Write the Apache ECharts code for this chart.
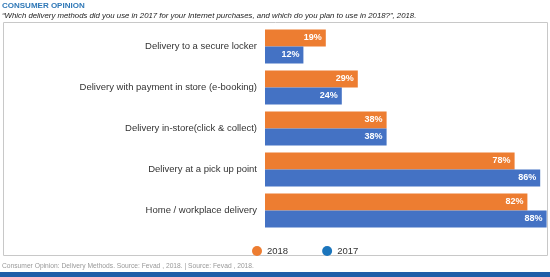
<!DOCTYPE html>
<html><head><meta charset="utf-8">
<script src="https://cdn.jsdelivr.net/npm/echarts@6/dist/echarts.min.js"></script>
<style>html,body{margin:0;padding:0;background:#fff}#c{width:550px;height:277px}</style>
</head><body><div id="c"></div>
<script>
const categories = ["Delivery to a secure locker","Delivery with payment in store (e-booking)","Delivery in-store(click & collect)","Delivery at a pick up point","Home / workplace delivery"];
const values2018 = [19, 29, 38, 78, 82];
const values2017 = [12, 24, 38, 86, 88];
const seriesNames = ["2018", "2017"];
const titleText = "CONSUMER OPINION";
const subtitleText = "\u201cWhich delivery methods did you use in 2017 for your Internet purchases, and which do you plan to use in 2018?\u201d, 2018.";
const footerText = "Consumer Opinion: Delivery Methods. Source: Fevad , 2018. | Source: Fevad , 2018.";

const chart = echarts.init(document.getElementById('c'), null, {renderer:'canvas'});
const font = 'Liberation Sans, Arial, sans-serif';
const lbl = {show:true, position:'insideRight', distance:4, color:'#fff', fontWeight:'bold', fontSize:9, fontFamily:font, formatter:'{c}%'};
chart.setOption({
  animation:false,
  textStyle:{fontFamily:font},
  graphic:[
    {type:'rect', shape:{x:3.5,y:22.5,width:544,height:233}, style:{fill:'none', stroke:'#c8c8c8', lineWidth:1}, z:-1},
    {type:'text', left:2, top:2, style:{text:titleText, fill:'#2f78b7', font:'bold 8px '+font}},
    {type:'text', left:2, top:12, style:{text:subtitleText, fill:'#222', font:'italic 7.8px '+font}},
    {type:'text', left:2, top:263, style:{text:footerText, fill:'#999', font:'6.7px '+font}},
    {type:'rect', shape:{x:0,y:272,width:550,height:5}, style:{fill:'#1f5ea8'}}
  ],
  legend:{
    left:247, top:241, itemWidth:10, itemHeight:10, itemGap:34, icon:'circle',
    textStyle:{fontSize:9.5, color:'#333', fontFamily:font},
    data:[{name:seriesNames[0], itemStyle:{color:'#ed7d31'}},{name:seriesNames[1], itemStyle:{color:'#1b75bc'}}]
  },
  grid:{left:265, top:26, width:320, height:205, containLabel:false, outerBoundsMode:'none'},
  xAxis:{type:'value', min:0, max:100, show:false},
  yAxis:{type:'category', data:categories, inverse:true,
    axisLine:{show:false}, axisTick:{show:false},
    axisLabel:{fontSize:9.5, color:'#333', margin:8, fontFamily:font}},
  series:[
    {name:seriesNames[0], type:'bar', data:values2018, barCategoryGap:'17%', barGap:'0%', itemStyle:{color:'#ed7d31'}, label:lbl},
    {name:seriesNames[1], type:'bar', data:values2017, barCategoryGap:'17%', barGap:'0%', itemStyle:{color:'#4472c4'}, label:lbl}
  ]
});
</script></body></html>
